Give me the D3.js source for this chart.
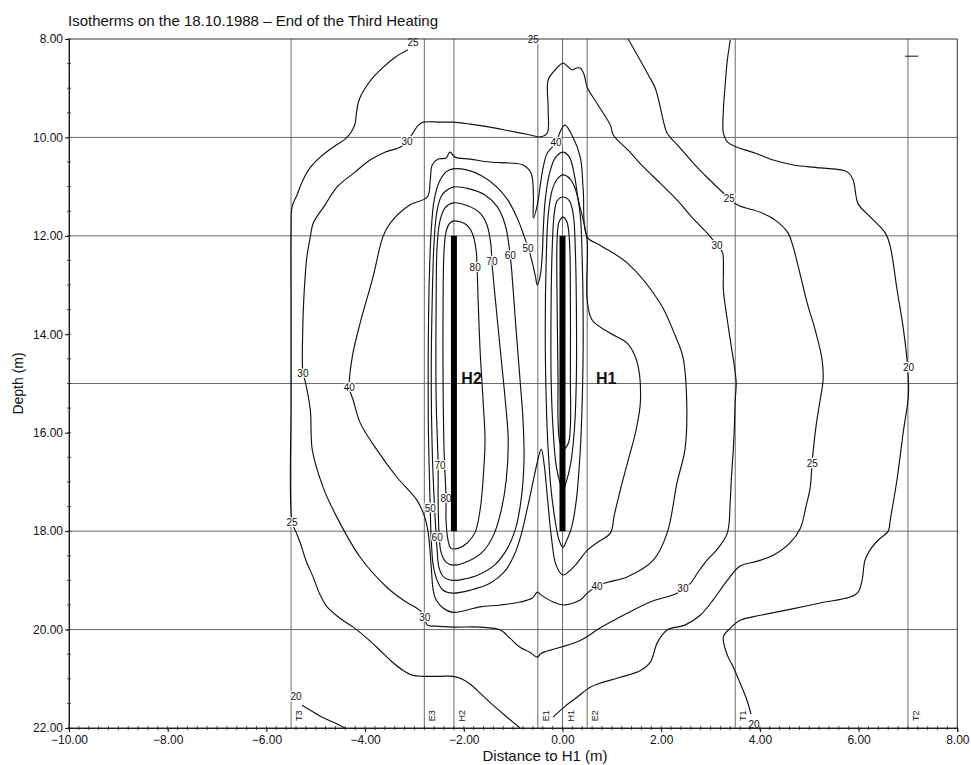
<!DOCTYPE html>
<html>
<head>
<meta charset="utf-8">
<script src="https://cdn.jsdelivr.net/npm/d3@7"></script>
<style>
  body { margin: 0; background: #fff; }
  svg text { font-family: "Liberation Sans", Arial, sans-serif; fill: #111; }
  .tick text, .iso-label, .probe-label { font-family: "Liberation Sans Narrow", "Liberation Sans", Arial, sans-serif; }
</style>
</head>
<body>
<svg id="chart" width="971" height="765"></svg>
<script>
// ---- axis ticks ----
const xTicks = [-10, -8, -6, -4, -2, 0, 2, 4, 6, 8];
const yTicks = [8, 10, 12, 14, 16, 18, 20, 22];
const gridDepths = [10, 12, 15, 18, 20];

// ---- measuring lines (distance to H1, m) ----
const probeNames = ["T3", "E3", "H2", "E1", "H1", "E2", "T1", "T2"];
const probeX     = [-5.5, -2.8, -2.2, -0.5, 0.0, 0.5, 3.5, 7.0];

// ---- heaters ----
const heaterNames  = ["H2", "H1"];
const heaterX      = [-2.2, 0.0];
const heaterTop    = [12, 12];
const heaterBottom = [18, 18];
const heaterLabelX = [-2.05, 0.68];
const heaterLabelDepth = [15, 15];

// ---- isotherms: [distance (m), depth (m)] ----
const iso20Left = [[-5.28,21.54],[-5.11,21.64],[-4.91,21.76],[-4.65,21.88],[-4.41,22.0]];
const iso20Right = [[3.40,8.02],[3.34,8.43],[3.30,8.89],[3.26,9.44],[3.26,9.91],[3.34,10.09],[3.54,10.20],
  [3.91,10.32],[4.27,10.46],[4.68,10.56],[5.22,10.62],[5.77,10.70],[5.89,10.87],[5.99,11.35],[6.20,11.58],
  [6.54,11.94],[6.64,12.21],[6.78,13.10],[6.91,13.91],[6.99,14.63],[7.01,15.24],[6.91,15.95],[6.78,16.94],
  [6.64,17.78],[6.60,18.00],[6.40,18.18],[6.24,18.37],[6.13,18.59],[6.07,19.00],[5.99,19.24],[5.83,19.34],
  [5.22,19.46],[4.61,19.59],[4.01,19.71],[3.60,19.81],[3.40,19.97],[3.26,20.15],[3.34,20.52],[3.46,20.76],
  [3.60,21.09],[3.74,21.44],[3.82,21.72]];
const iso25Left = [[-3.13,8.22],[-3.39,8.37],[-3.63,8.57],[-3.83,8.77],[-3.96,8.94],[-4.08,9.14],[-4.14,9.30],
  [-4.18,9.54],[-4.20,9.71],[-4.28,9.89],[-4.40,10.03],[-4.65,10.20],[-4.91,10.40],[-5.11,10.61],[-5.26,10.87],
  [-5.38,11.17],[-5.48,11.41],[-5.50,11.88],[-5.50,13.50],[-5.50,15.34],[-5.48,17.82],[-5.40,18.02],[-5.32,18.22],
  [-5.20,18.59],[-5.05,18.94],[-4.91,19.30],[-4.77,19.54],[-4.51,19.77],[-4.24,19.95],[-3.96,20.18],[-3.70,20.42],
  [-3.45,20.66],[-3.23,20.83],[-3.03,20.93],[-2.82,20.95],[-2.48,20.95],[-2.22,20.95],[-2.03,21.01],[-1.87,21.11],
  [-1.67,21.29],[-1.47,21.48],[-1.16,21.75],[-0.86,22.0]];
const iso25Right = [[1.33,8.0],[1.54,8.37],[1.74,8.73],[1.88,9.0],[1.98,9.38],[2.04,9.65],[2.12,9.91],[2.39,10.22],
  [2.65,10.52],[2.95,10.83],[3.26,11.13],[3.54,11.37],[4.01,11.52],[4.31,11.68],[4.57,11.94],[4.67,12.21],
  [4.82,12.80],[4.96,13.37],[5.12,13.91],[5.26,14.52],[5.28,14.93],[5.22,15.34],[5.14,15.85],[5.06,16.58],
  [5.02,17.11],[4.94,17.47],[4.82,17.94],[4.61,18.24],[4.27,18.49],[3.95,18.61],[3.60,18.71],[3.34,19.00],
  [3.05,19.40],[2.79,19.71],[2.48,19.91],[2.12,20.01],[1.92,20.27],[1.78,20.66],[1.58,20.83],[1.17,20.97],
  [0.76,21.09],[0.56,21.17],[0.30,21.37],[0.05,21.56],[-0.19,21.78]];
const iso30 = [[-3.15,10.09],[-3.03,9.91],[-2.92,9.75],[-2.82,9.69],[-2.48,9.69],[-2.22,9.69],[-1.87,9.73],
  [-1.47,9.79],[-1.06,9.87],[-0.65,9.95],[-0.45,9.99],[-0.31,9.91],[-0.29,9.44],[-0.29,8.83],[-0.15,8.63],
  [0.01,8.49],[0.12,8.57],[0.20,8.63],[0.28,8.59],[0.36,8.59],[0.44,8.73],[0.50,8.98],[0.72,9.34],[0.97,9.75],
  [1.03,9.95],[1.33,10.26],[1.64,10.60],[1.98,10.93],[2.32,11.27],[2.62,11.62],[2.93,11.94],[3.13,12.19],
  [3.24,12.33],[3.26,12.70],[3.26,13.10],[3.34,13.71],[3.40,14.12],[3.48,14.63],[3.52,14.99],[3.50,15.34],
  [3.48,15.95],[3.46,16.35],[3.42,16.96],[3.40,17.37],[3.34,18.04],[3.15,18.35],[2.93,18.59],[2.75,18.83],
  [2.59,19.06],[2.44,19.16],[2.32,19.26],[1.78,19.44],[1.31,19.67],[0.76,19.97],[0.36,20.22],[-0.11,20.38],
  [-0.43,20.48],[-0.51,20.56],[-0.66,20.46],[-0.86,20.36],[-1.06,20.18],[-1.26,20.01],[-1.67,19.95],
  [-2.22,19.95],[-2.58,19.93],[-2.74,19.91],[-2.79,19.75],[-2.89,19.61],[-3.23,19.40],[-3.56,19.14],
  [-4.10,18.53],[-4.57,17.72],[-4.85,17.11],[-5.07,16.35],[-5.11,15.54],[-5.22,14.93],[-5.26,14.79],
  [-5.26,13.77],[-5.22,12.90],[-5.18,12.43],[-5.11,12.02],[-5.05,11.74],[-4.81,11.37],[-4.57,11.01],
  [-4.20,10.70],[-3.90,10.46],[-3.60,10.30],[-3.29,10.20]];
const iso40 = [[0.05,9.75],[0.21,9.99],[0.36,10.40],[0.42,11.07],[0.50,12.02],[0.76,12.19],[1.31,12.55],
  [1.98,13.37],[2.28,14.02],[2.44,14.46],[2.52,15.54],[2.48,16.35],[2.32,17.02],[2.12,18.04],[1.84,18.59],
  [1.31,18.93],[0.91,19.04],[0.70,19.12],[0.50,19.26],[0.36,19.40],[0.01,19.50],[-0.19,19.44],[-0.43,19.30],
  [-0.51,19.24],[-0.61,19.36],[-0.86,19.44],[-1.26,19.50],[-1.67,19.54],[-2.22,19.65],[-2.42,19.56],
  [-2.56,19.40],[-2.62,19.20],[-2.66,18.73],[-2.72,18.04],[-2.79,17.72],[-2.95,17.37],[-3.36,16.90],
  [-3.76,16.35],[-4.10,15.80],[-4.24,15.34],[-4.32,15.09],[-4.26,14.46],[-4.10,13.77],[-3.84,12.84],
  [-3.64,12.02],[-3.49,11.74],[-3.09,11.37],[-2.74,11.21],[-2.68,10.87],[-2.64,10.56],[-2.52,10.44],
  [-2.36,10.42],[-2.28,10.30],[-2.18,10.40],[-1.87,10.44],[-1.47,10.50],[-1.06,10.52],[-0.80,10.56],
  [-0.64,10.72],[-0.59,11.17],[-0.59,11.64],[-0.51,11.37],[-0.45,10.97],[-0.39,10.60],[-0.31,10.32],
  [-0.13,10.11],[-0.05,9.89]];
const iso50 = [[0.01,10.30],[0.14,10.40],[0.24,10.76],[0.32,11.27],[0.42,11.68],[0.50,12.09],[0.50,13.30],
  [0.60,13.71],[0.97,13.98],[1.31,14.18],[1.51,14.56],[1.58,15.34],[1.49,15.95],[1.33,16.56],[1.17,17.17],
  [1.05,17.67],[0.97,18.04],[0.72,18.22],[0.50,18.39],[0.26,18.69],[0.01,18.89],[-0.13,18.69],[-0.23,18.08],
  [-0.31,17.27],[-0.37,16.66],[-0.43,16.33],[-0.51,16.60],[-0.61,17.06],[-0.72,17.57],[-0.84,18.08],
  [-0.98,18.49],[-1.18,18.83],[-1.47,19.06],[-1.87,19.20],[-2.22,19.26],[-2.42,19.20],[-2.54,19.00],
  [-2.62,18.69],[-2.66,18.18],[-2.68,17.55],[-2.70,16.76],[-2.72,15.74],[-2.72,14.32],[-2.70,12.90],
  [-2.66,11.88],[-2.60,11.27],[-2.50,10.91],[-2.36,10.70],[-2.22,10.64],[-1.94,10.66],[-1.64,10.78],
  [-1.35,10.99],[-1.11,11.27],[-0.90,11.68],[-0.78,12.00],[-0.69,12.25],[-0.61,12.55],[-0.55,12.82],
  [-0.51,13.00],[-0.45,12.80],[-0.41,12.39],[-0.39,11.88],[-0.35,11.27],[-0.27,10.76],[-0.15,10.42]];
const iso60H2 = [[-2.22,11.01],[-1.87,11.05],[-1.57,11.17],[-1.32,11.41],[-1.16,11.78],[-1.06,12.39],
  [-1.00,13.10],[-0.94,13.91],[-0.86,14.93],[-0.80,15.74],[-0.78,16.56],[-0.84,17.37],[-0.96,17.98],
  [-1.14,18.39],[-1.38,18.69],[-1.71,18.89],[-2.03,18.98],[-2.22,19.00],[-2.40,18.94],[-2.50,18.75],
  [-2.54,18.39],[-2.56,18.12],[-2.60,17.37],[-2.64,16.35],[-2.66,14.93],[-2.64,13.30],[-2.60,12.09],
  [-2.54,11.48],[-2.44,11.17]];
const iso70H2 = [[-2.22,11.33],[-1.92,11.39],[-1.67,11.54],[-1.53,11.78],[-1.45,12.19],[-1.43,12.53],
  [-1.36,13.30],[-1.26,14.32],[-1.16,15.34],[-1.10,16.15],[-1.14,16.96],[-1.24,17.57],[-1.38,18.04],
  [-1.59,18.39],[-1.87,18.59],[-2.22,18.69],[-2.36,18.63],[-2.46,18.43],[-2.50,18.08],[-2.52,17.37],
  [-2.52,16.66],[-2.56,15.34],[-2.56,13.30],[-2.54,12.19],[-2.48,11.68],[-2.38,11.43]];
const iso80H2 = [[-2.22,11.70],[-1.97,11.76],[-1.83,11.94],[-1.75,12.29],[-1.73,12.65],[-1.71,13.30],
  [-1.67,14.32],[-1.61,15.34],[-1.57,16.15],[-1.61,16.96],[-1.67,17.57],[-1.77,18.02],[-1.93,18.24],
  [-2.12,18.35],[-2.26,18.35],[-2.32,18.18],[-2.36,17.78],[-2.36,17.33],[-2.40,16.35],[-2.42,14.93],
  [-2.42,13.30],[-2.40,12.29],[-2.36,11.92],[-2.30,11.76]];
const iso60H1 = [[0.01,10.76],[0.16,10.85],[0.28,11.11],[0.36,11.58],[0.40,12.49],[0.42,13.91],[0.40,15.34],
  [0.36,16.35],[0.28,17.37],[0.18,17.94],[0.07,18.22],[0.01,18.33],[-0.07,18.18],[-0.15,17.78],[-0.23,17.17],
  [-0.29,16.35],[-0.33,15.34],[-0.35,13.91],[-0.33,12.49],[-0.29,11.58],[-0.21,11.07],[-0.11,10.85]];
const iso70H1 = [[0.01,11.21],[0.14,11.29],[0.22,11.58],[0.26,12.29],[0.28,13.30],[0.28,14.93],[0.24,15.95],
  [0.16,16.66],[0.07,17.02],[0.01,17.17],[-0.05,17.02],[-0.13,16.66],[-0.19,15.95],[-0.23,14.93],[-0.23,13.30],
  [-0.21,12.29],[-0.17,11.58],[-0.11,11.29]];
const iso80H1 = [[0.01,11.62],[0.09,11.72],[0.14,12.09],[0.16,13.30],[0.16,14.93],[0.16,15.85],[0.12,16.21],
  [0.03,16.33],[-0.05,16.21],[-0.09,15.74],[-0.09,14.93],[-0.11,13.30],[-0.11,12.09],[-0.07,11.72]];

const isotherms = [
  { level: 20, closed: false, points: iso20Left },
  { level: 20, closed: false, points: iso20Right },
  { level: 25, closed: false, points: iso25Left },
  { level: 25, closed: false, points: iso25Right },
  { level: 30, closed: true,  points: iso30 },
  { level: 40, closed: true,  points: iso40 },
  { level: 50, closed: true,  points: iso50 },
  { level: 60, closed: true,  points: iso60H2 },
  { level: 70, closed: true,  points: iso70H2 },
  { level: 80, closed: true,  points: iso80H2 },
  { level: 60, closed: true,  points: iso60H1 },
  { level: 70, closed: true,  points: iso70H1 },
  { level: 80, closed: true,  points: iso80H1 }
];

// ---- isotherm labels: [text, distance, depth] ----
const isoLabels = [
  ["20", -5.40, 21.37], ["20", 7.01, 14.67], ["20", 3.88, 21.93],
  ["25", -3.03, 8.08], ["25", -0.59, 8.0], ["25", -5.48, 17.82], ["25", 3.38, 11.25], ["25", 5.06, 16.62],
  ["30", -3.15, 10.09], ["30", -5.26, 14.79], ["30", -2.79, 19.75], ["30", 3.13, 12.19], ["30", 2.44, 19.16],
  ["40", -4.32, 15.09], ["40", -0.13, 10.11], ["40", 0.70, 19.12],
  ["50", -0.70, 12.25], ["50", -2.68, 17.55],
  ["60", -1.06, 12.39], ["60", -2.54, 18.12],
  ["70", -1.43, 12.53], ["70", -2.48, 16.66],
  ["80", -1.77, 12.65], ["80", -2.36, 17.33]
];

// small stray mark near the top right of the plot
const strayMark = [[6.94, 8.35], [7.21, 8.35]];

// ---- layout ----
const svg = d3.select("#chart");
const x = d3.scaleLinear().domain([-10, 8]).range([69, 957.3]);
const y = d3.scaleLinear().domain([8, 22]).range([39, 728]);
const fmt = d3.format(".2f");

// horizontal grid lines
svg.append("g").selectAll("line").data(gridDepths).join("line")
  .attr("x1", x(-10)).attr("x2", x(8))
  .attr("y1", d => y(d)).attr("y2", d => y(d))
  .attr("stroke", "#6a6a6a").attr("stroke-width", 1);

// measuring lines
svg.append("g").selectAll("line").data(probeX).join("line")
  .attr("x1", d => x(d)).attr("x2", d => x(d))
  .attr("y1", y(8)).attr("y2", y(22))
  .attr("stroke", "#6a6a6a").attr("stroke-width", 1);

svg.append("g").selectAll("text").data(probeNames).join("text")
  .attr("class", "probe-label")
  .attr("transform", (d, i) => `translate(${x(probeX[i]) + 11},${y(21.75)}) rotate(-90)`)
  .attr("text-anchor", "middle")
  .attr("font-size", 9)
  .text(d => d);

// isotherms
const lineOpen = d3.line().x(d => x(d[0])).y(d => y(d[1])).curve(d3.curveCatmullRom.alpha(0.5));
const lineClosed = d3.line().x(d => x(d[0])).y(d => y(d[1])).curve(d3.curveCatmullRomClosed.alpha(0.5));
svg.append("g").selectAll("path").data(isotherms).join("path")
  .attr("d", d => (d.closed ? lineClosed : lineOpen)(d.points))
  .attr("fill", "none")
  .attr("stroke", "#111")
  .attr("stroke-width", 1.15)
  .attr("stroke-linejoin", "round");

svg.append("path")
  .attr("d", d3.line().x(d => x(d[0])).y(d => y(d[1]))(strayMark))
  .attr("stroke", "#333").attr("stroke-width", 1.2);

// isotherm labels
svg.append("g").selectAll("text").data(isoLabels).join("text")
  .attr("class", "iso-label")
  .attr("x", d => x(d[1])).attr("y", d => y(d[2]))
  .attr("dy", "0.35em")
  .attr("text-anchor", "middle")
  .attr("font-size", 10)
  .attr("stroke", "#fff").attr("stroke-width", 2.5)
  .attr("paint-order", "stroke")
  .text(d => d[0]);

// heaters
svg.append("g").selectAll("line").data(heaterX).join("line")
  .attr("x1", d => x(d)).attr("x2", d => x(d))
  .attr("y1", (d, i) => y(heaterTop[i])).attr("y2", (d, i) => y(heaterBottom[i]))
  .attr("stroke", "#000").attr("stroke-width", 6);

svg.append("g").selectAll("text").data(heaterNames).join("text")
  .attr("x", (d, i) => x(heaterLabelX[i]))
  .attr("y", (d, i) => y(heaterLabelDepth[i]))
  .attr("font-size", 16).attr("font-weight", "bold")
  .text(d => d);

// axes
const xAxis = d3.axisBottom(x).tickValues(xTicks).tickFormat(fmt).tickSize(4).tickPadding(3);
const yAxis = d3.axisLeft(y).tickValues(yTicks).tickFormat(fmt).tickSize(4).tickPadding(2);
const gx = svg.append("g").attr("transform", `translate(0,${y(22)})`).call(xAxis);
const gy = svg.append("g").attr("transform", `translate(${x(-10)},0)`).call(yAxis);
[gx, gy].forEach(g => {
  g.selectAll("text").attr("font-size", 12).attr("fill", "#111");
  g.select(".domain").attr("stroke", "#111");
  g.selectAll(".tick line").attr("stroke", "#111");
});

// minor ticks
const xMinor = d3.range(-10, 8.001, 0.2);
svg.append("g").selectAll("line").data(xMinor).join("line")
  .attr("x1", d => x(d)).attr("x2", d => x(d))
  .attr("y1", y(22) - 2).attr("y2", y(22) + 2)
  .attr("stroke", "#222").attr("stroke-width", 0.8);
const yMinor = d3.range(8, 22.001, 0.5);
svg.append("g").selectAll("line").data(yMinor).join("line")
  .attr("x1", x(-10) - 2).attr("x2", x(-10) + 2)
  .attr("y1", d => y(d)).attr("y2", d => y(d))
  .attr("stroke", "#222").attr("stroke-width", 0.8);

// frame
svg.append("rect")
  .attr("x", x(-10)).attr("y", y(8))
  .attr("width", x(8) - x(-10)).attr("height", y(22) - y(8))
  .attr("fill", "none").attr("stroke", "#333").attr("stroke-width", 1);

// titles
svg.append("text").attr("x", 68).attr("y", 26).attr("font-size", 15)
  .text("Isotherms on the 18.10.1988 \u2013 End of the Third Heating");
svg.append("text").attr("transform", `translate(23,${y(15)}) rotate(-90)`)
  .attr("text-anchor", "middle").attr("font-size", 14).text("Depth (m)");
svg.append("text").attr("x", 545).attr("y", 761).attr("text-anchor", "middle")
  .attr("font-size", 15).text("Distance to H1 (m)");
</script>
</body>
</html>
